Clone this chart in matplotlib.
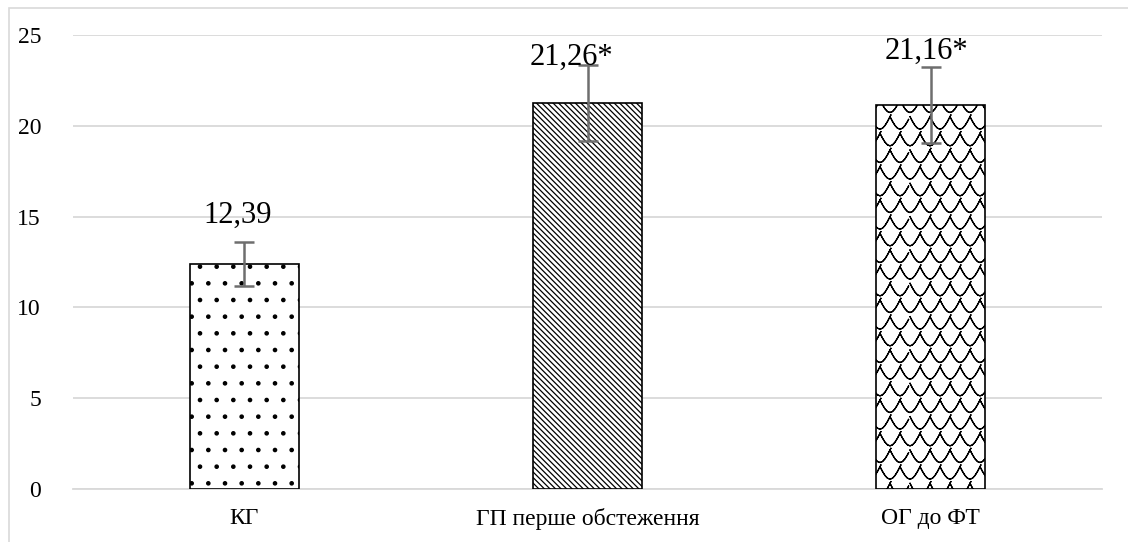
import warnings
import numpy as np
import matplotlib
matplotlib.use("Agg")
import matplotlib.pyplot as plt
import matplotlib.hatch as mhatch
from matplotlib.path import Path
from matplotlib.patches import Rectangle

warnings.filterwarnings("ignore")

plt.rcParams["font.family"] = ["Liberation Serif", "DejaVu Serif"]
plt.rcParams["hatch.linewidth"] = 0.9


# fish-scale hatch like the one on the third bar ('w' in the hatch string)
# each arc is traced there and back so the hatch fill has no area
class Scallops(mhatch.HatchPatternBase):
    def __init__(self, hatch, density):
        n = hatch.count("w")
        self.rows = int(n * density)
        self.cols = int(n * density) - 1
        self.k = 9
        self.arcs = []
        if self.rows:
            dx = 1.0 / self.cols
            dy = 1.0 / self.rows
            for j in range(self.rows + 1):
                off = (j % 2) * dx / 2
                for i in range(-1, self.cols + 1):
                    self.arcs.append((i * dx + off, j * dy, dx, dy))
        self.per_arc = 2 * self.k - 1
        self.num_vertices = len(self.arcs) * self.per_arc

    def set_vertices_and_codes(self, vertices, codes):
        t = np.linspace(0, 1, self.k)
        t = np.concatenate([t, t[-2::-1]])
        for n, (x0, y0, w, h) in enumerate(self.arcs):
            seg = slice(n * self.per_arc, (n + 1) * self.per_arc)
            vertices[seg, 0] = x0 + w * t
            vertices[seg, 1] = y0 - h * 0.75 * np.sin(np.pi * t)
            codes[seg] = Path.LINETO
            codes[n * self.per_arc] = Path.MOVETO


mhatch._hatch_types.append(Scallops)

# data
categories = ["КГ", "ГП перше обстеження", "ОГ до ФТ"]
values = [12.39, 21.26, 21.16]
errors = [1.22, 2.1, 2.1]
value_labels = ["12,39", "21,26*", "21,16*"]
yticks = [0, 5, 10, 15, 20, 25]
hatches = [".", "\\\\\\\\\\\\", "w"]

# label placement (style only)
label_dy = [2.26, 2.09, 2.52]
label_dx = [-0.02, -0.047, -0.012]

serif = "Liberation Serif"

fig = plt.figure(figsize=(11.28, 5.42), dpi=100)
ax = fig.add_axes([0.0647, 0.0978, 0.977 - 0.0647, 0.9354 - 0.0978])

# outer chart frame (only top/left visible in the reference)
fig.patches.append(Rectangle((9 / 1128, -0.1), 1.2, (542 - 8) / 542 + 0.1,
                             transform=fig.transFigure, fill=False,
                             edgecolor="#d9d9d9", linewidth=1.2))

x = np.arange(len(categories))
bars = ax.bar(x, values, width=0.32, color="white", edgecolor="black",
              linewidth=1.2, zorder=3)
for b, h in zip(bars, hatches):
    b.set_hatch(h)

ax.errorbar(x, values, yerr=errors, fmt="none", ecolor="#6e6e6e",
            elinewidth=1.8, capsize=7, capthick=1.8, zorder=4)

for i in range(len(values)):
    ax.text(x[i] + label_dx[i], values[i] + label_dy[i], value_labels[i],
            ha="center", va="baseline", fontsize=22, color="black",
            family=serif, zorder=5)

ax.set_xlim(-0.5, len(categories) - 0.5)
ax.set_ylim(0, 25)
ax.set_yticks(yticks)
ax.set_yticklabels([str(t) for t in yticks], fontfamily=serif, fontsize=17)
ax.set_xticks(x)
ax.set_xticklabels(categories, fontfamily=serif, fontsize=17)
ax.tick_params(axis="y", length=0, pad=23)
ax.tick_params(axis="x", length=0, pad=14)
ax.yaxis.grid(True, color="#d9d9d9", linewidth=1.3, zorder=0)
ax.set_axisbelow(True)
for s in ["top", "right", "left"]:
    ax.spines[s].set_visible(False)
ax.spines["bottom"].set_color("#d9d9d9")
ax.spines["bottom"].set_linewidth(1.3)

fig.savefig("out.png", dpi=100)
